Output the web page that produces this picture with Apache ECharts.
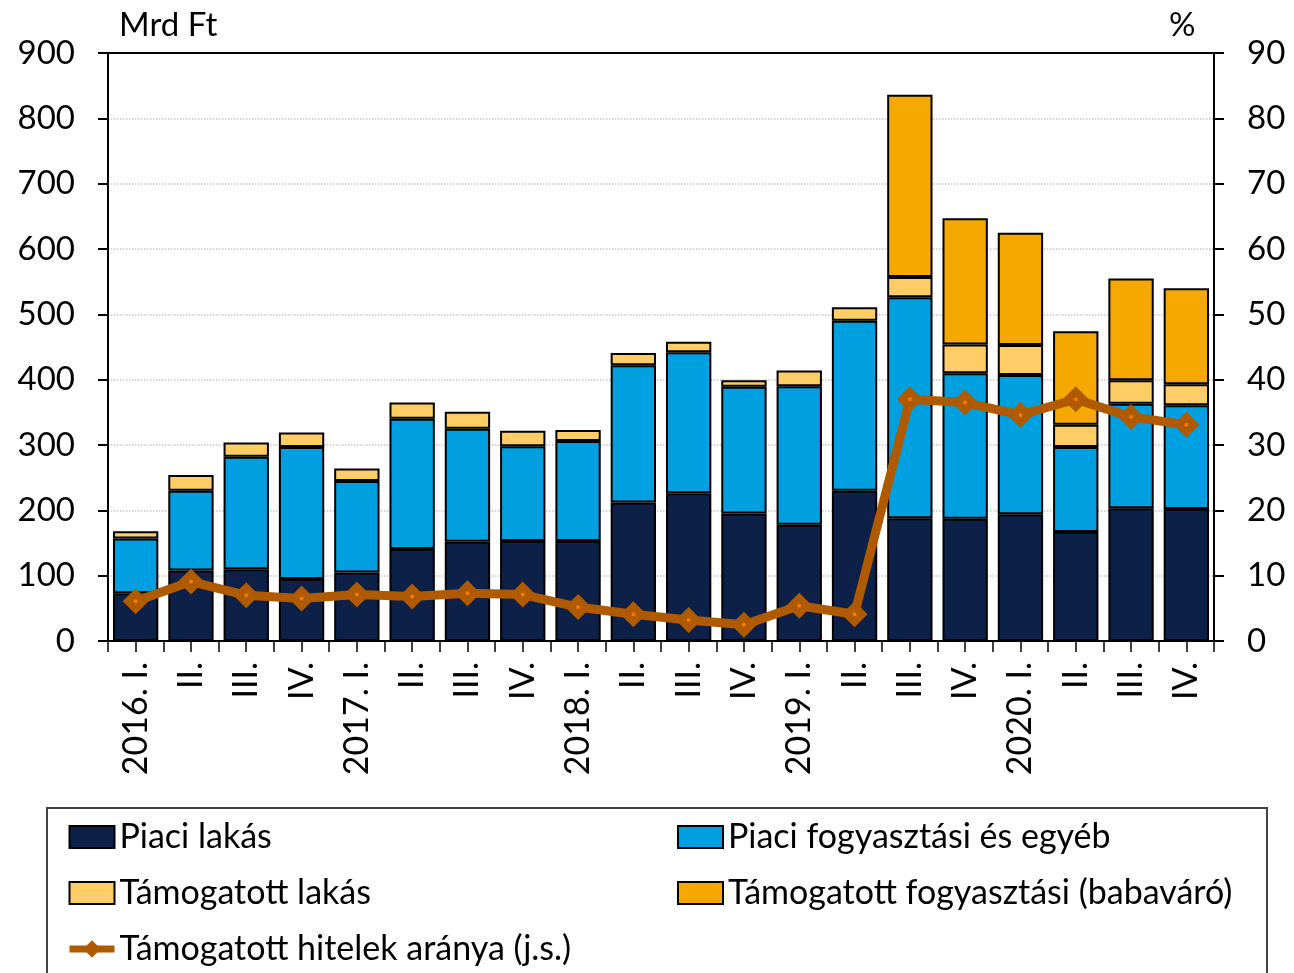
<!DOCTYPE html>
<html>
<head>
<meta charset="utf-8">
<title>Hitelek</title>
<script src="https://cdn.jsdelivr.net/npm/echarts@6/dist/echarts.min.js"></script>
<style>
  html, body { margin: 0; padding: 0; background: #fff; }
  #chart { width: 1294px; height: 973px; }
</style>
</head>
<body>
<div id="chart"></div>
<script>
  // negyedevek
  const categories = [
    '2016. I.', 'II.', 'III.', 'IV.',
    '2017. I.', 'II.', 'III.', 'IV.',
    '2018. I.', 'II.', 'III.', 'IV.',
    '2019. I.', 'II.', 'III.', 'IV.',
    '2020. I.', 'II.', 'III.', 'IV.'
  ]
  // Mrd Ft
  const piaciLakas = [73, 108, 110, 95, 105, 141, 152, 153, 153, 212, 226, 195, 178, 230, 188, 187, 194, 167, 203, 202]
  const piaciFogyasztasi = [84, 122, 172, 202, 140, 199, 173, 145, 153, 210, 216, 194, 212, 260, 338, 223, 213, 130, 160, 159]
  const tamogatottLakas = [11, 24, 22, 22, 19, 25, 26, 24, 17, 19, 16, 10, 24, 21, 31, 44, 46, 34, 36, 32]
  const babavaro = ['-', '-', '-', '-', '-', '-', '-', '-', '-', '-', '-', '-', '-', '-', 279, 193, 172, 143, 156, 147]
  // %
  const tamogatottArany = [6.1, 9.1, 7.0, 6.5, 7.1, 6.8, 7.3, 7.1, 5.2, 4.1, 3.2, 2.5, 5.4, 4.1, 37.0, 36.5, 34.6, 37.0, 34.3, 33.1]

  // fel-negyedeves osztasok az x tengelyen
  const halfTicks = []
  for (let i = 0; i < categories.length * 2; i++) {
    halfTicks.push(String(i))
  }

  const font = 'Lato'
  const lineColor = '#B05A00'
  const barBorder = { borderColor: '#000', borderWidth: 2 }

  let chart = echarts.init(document.getElementById('chart'))
  chart.setOption({
    animation: false,
    textStyle: { fontFamily: font, color: '#000' },
    grid: { left: 108, right: 80, top: 53, bottom: 332, containLabel: false },
    graphic: [
      { type: 'text', left: 119, top: 9, style: { text: 'Mrd Ft', font: '33px ' + font, fill: '#000' } },
      { type: 'text', left: 1169, top: 9, style: { text: '%', font: '33px ' + font, fill: '#000' } },
      { type: 'rect', shape: { x: 47, y: 808, width: 1220, height: 180 }, style: { fill: 'none', stroke: '#444', lineWidth: 2 } }
    ],
    legend: [
      {
        left: 66, top: 820, height: 160, orient: 'vertical', padding: 0,
        itemWidth: 45, itemHeight: 22, itemGap: 22,
        lineStyle: { width: 7, color: lineColor },
        textStyle: { fontSize: 34, fontFamily: font, color: '#000' },
        data: [
          { name: 'Piaci lakás', icon: 'rect' },
          { name: 'Támogatott lakás', icon: 'rect' },
          'Támogatott hitelek aránya (j.s.)'
        ]
      },
      {
        left: 677, top: 820, height: 160, orient: 'vertical', padding: 0,
        itemWidth: 45, itemHeight: 22, itemGap: 22,
        textStyle: { fontSize: 34, fontFamily: font, color: '#000' },
        data: [
          { name: 'Piaci fogyasztási és egyéb', icon: 'rect' },
          { name: 'Támogatott fogyasztási (babaváró)', icon: 'rect' }
        ]
      }
    ],
    xAxis: [
      {
        type: 'category',
        data: categories,
        position: 'bottom',
        axisLine: { lineStyle: { color: '#000', width: 2 } },
        axisTick: { show: false },
        axisLabel: { interval: 0, rotate: 90, margin: 21, fontSize: 34, color: '#000' }
      },
      {
        type: 'category',
        data: halfTicks,
        position: 'bottom',
        offset: 0,
        axisLine: { show: false },
        axisTick: { show: true, length: 11, lineStyle: { color: '#000', width: 1.5 } },
        axisLabel: { show: false }
      },
      {
        type: 'category',
        data: categories,
        position: 'top',
        axisLine: { lineStyle: { color: '#000', width: 2 } },
        axisTick: { show: false },
        axisLabel: { show: false }
      }
    ],
    yAxis: [
      {
        type: 'value',
        min: 0, max: 900, interval: 100,
        axisLine: { show: true, lineStyle: { color: '#000', width: 2 } },
        axisTick: { show: true, length: 10, lineStyle: { color: '#000', width: 2 } },
        axisLabel: { margin: 33, fontSize: 33, color: '#000' },
        splitLine: { lineStyle: { color: '#c8c8c8', type: 'dotted', width: 1.5 } }
      },
      {
        type: 'value',
        min: 0, max: 90, interval: 10,
        position: 'right',
        axisLine: { show: true, lineStyle: { color: '#000', width: 2 } },
        axisTick: { show: true, length: 10, lineStyle: { color: '#000', width: 2 } },
        axisLabel: { margin: 33, fontSize: 33, color: '#000' },
        splitLine: { show: false }
      }
    ],
    series: [
      {
        name: 'Piaci lakás', type: 'bar', stack: 'hitel', barCategoryGap: '18%',
        itemStyle: Object.assign({ color: '#0C2048' }, barBorder),
        data: piaciLakas
      },
      {
        name: 'Piaci fogyasztási és egyéb', type: 'bar', stack: 'hitel',
        itemStyle: Object.assign({ color: '#009FDF' }, barBorder),
        data: piaciFogyasztasi
      },
      {
        name: 'Támogatott lakás', type: 'bar', stack: 'hitel',
        itemStyle: Object.assign({ color: '#FFCD66' }, barBorder),
        data: tamogatottLakas
      },
      {
        name: 'Támogatott fogyasztási (babaváró)', type: 'bar', stack: 'hitel',
        itemStyle: Object.assign({ color: '#F5A800' }, barBorder),
        data: babavaro
      },
      {
        name: 'Támogatott hitelek aránya (j.s.)', type: 'line', yAxisIndex: 1,
        symbol: 'diamond', symbolSize: 26,
        lineStyle: { color: lineColor, width: 9 },
        itemStyle: { color: lineColor },
        z: 5,
        data: tamogatottArany
      },
      // kis pont a rombuszok kozepen
      {
        name: 'pont', type: 'line', yAxisIndex: 1,
        symbol: 'circle', symbolSize: 4,
        lineStyle: { width: 0 },
        itemStyle: { color: '#F07A10' },
        z: 6, silent: true,
        data: tamogatottArany
      }
    ]
  })
</script>
</body>
</html>
